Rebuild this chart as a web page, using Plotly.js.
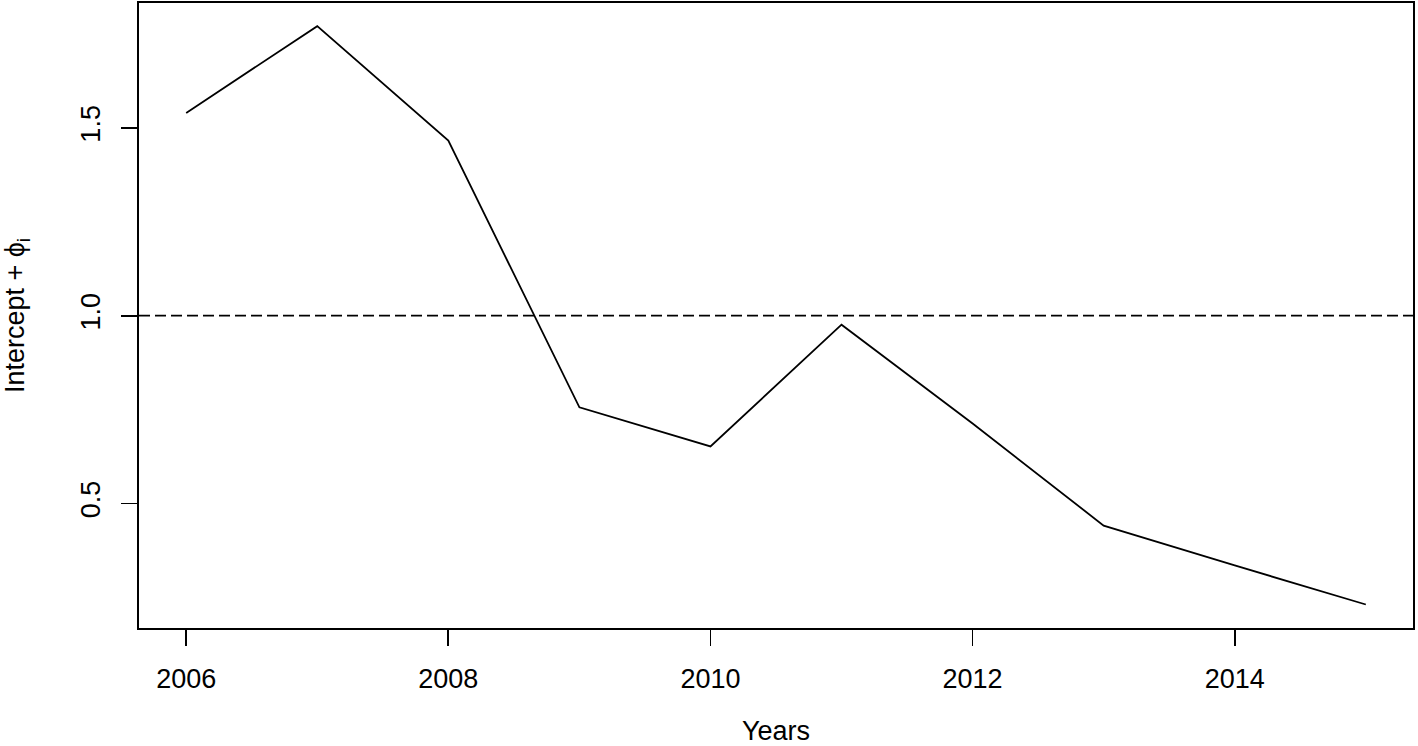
<!DOCTYPE html>
<html>
<head>
<meta charset="utf-8">
<script src="https://cdn.plot.ly/plotly-3.0.1.min.js"></script>
<style>html,body{margin:0;padding:0;background:#fff;}#chart{width:1418px;height:746px;}</style>
</head>
<body>
<div id="chart"></div>
<script>
const years = [2006, 2007, 2008, 2009, 2010, 2011, 2012, 2013, 2014, 2015];
const interceptPhi = [1.54, 1.771, 1.466, 0.756, 0.652, 0.976, 0.713, 0.441, 0.335, 0.231];
const referenceLevel = 1.0;
const xTicks = [2006, 2008, 2010, 2012, 2014];
const yTicks = [0.5, 1.0, 1.5];

const font = {family: 'Liberation Sans, Arial, sans-serif', color: '#000'};

const data = [{
  x: years, y: interceptPhi, type: 'scatter', mode: 'lines',
  line: {color: '#000', width: 1.8}, hoverinfo: 'x+y'
}];

const layout = {
  width: 1418, height: 746,
  margin: {l: 139, r: 5, t: 3, b: 118},
  paper_bgcolor: '#fff', plot_bgcolor: '#fff',
  showlegend: false,
  font: Object.assign({size: 27}, font),
  xaxis: {
    range: [2005.64, 2015.36], tickvals: xTicks, ticktext: xTicks.map(String),
    ticks: 'outside', ticklen: 16, tickwidth: 1.8, tickcolor: '#000',
    ticklabelstandoff: 10,
    showline: true, linecolor: '#000', linewidth: 2, mirror: true,
    showgrid: false, zeroline: false,
    tickfont: Object.assign({size: 27}, font),
    title: {text: 'Years', font: Object.assign({size: 27}, font), standoff: 28}
  },
  yaxis: {
    range: [0.1684, 1.8326], tickvals: yTicks, tickformat: '.1f', tickangle: -90,
    ticks: 'outside', ticklen: 16, tickwidth: 1.8, tickcolor: '#000',
    ticklabelstandoff: 10,
    showline: true, linecolor: '#000', linewidth: 2, mirror: true,
    showgrid: false, zeroline: false,
    tickfont: Object.assign({size: 27}, font),
    title: {text: 'Intercept + ϕ<sub>i</sub>', font: Object.assign({size: 27}, font), standoff: 44}
  },
  shapes: [{
    type: 'line', xref: 'paper', x0: 0, x1: 1, yref: 'y', y0: referenceLevel, y1: referenceLevel,
    line: {color: '#000', width: 1.8, dash: '11px,5px'}
  }]
};

Plotly.newPlot('chart', data, layout, {displayModeBar: false, staticPlot: true});
</script>
</body>
</html>
